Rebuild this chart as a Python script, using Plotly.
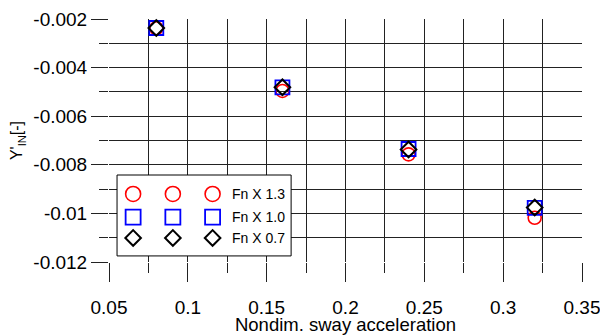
import plotly.graph_objects as go

x_vals = [0.08, 0.16, 0.24, 0.32]
fn13 = [-0.00238, -0.00496, -0.00757, -0.01018]
fn10 = [-0.00237, -0.00481, -0.00735, -0.00977]
fn07 = [-0.00237, -0.00481, -0.00737, -0.00976]
series_names = ["Fn X 1.3", "Fn X 1.0", "Fn X 0.7"]

x_ticks = [0.05, 0.1, 0.15, 0.2, 0.25, 0.3, 0.35]
x_tick_text = ["0.05", "0.1", "0.15", "0.2", "0.25", "0.3", "0.35"]
y_ticks = [-0.012, -0.01, -0.008, -0.006, -0.004, -0.002]
y_tick_text = ["-0.012", "-0.01", "-0.008", "-0.006", "-0.004", "-0.002"]

FONT = "Liberation Sans, Arial, sans-serif"
styles = [
    dict(symbol="circle-open", size=13, color="red", line=dict(width=1.6, color="red")),
    dict(symbol="square-open", size=14, color="blue", line=dict(width=1.8, color="blue")),
    dict(symbol="diamond-open", size=12, color="black", line=dict(width=2, color="black")),
]
leg_styles = [
    dict(symbol="circle-open", size=15, color="red", line=dict(width=1.6, color="red")),
    dict(symbol="square-open", size=15, color="blue", line=dict(width=1.8, color="blue")),
    dict(symbol="diamond-open", size=12, color="black", line=dict(width=2, color="black")),
]

fig = go.Figure()
for ys, st, nm in zip([fn13, fn10, fn07], styles, series_names):
    fig.add_trace(go.Scatter(x=x_vals, y=ys, mode="markers", marker=st, name=nm,
                             showlegend=False, cliponaxis=False))

# manual legend box (white, bordered) drawn on a hidden overlay axis
bx0, bx1, by0, by1 = 0.017, 0.385, 0.025, 0.358
fig.add_trace(go.Scatter(x=[bx0, bx1, bx1, bx0, bx0], y=[by0, by0, by1, by1, by0],
                         mode="lines", fill="toself", fillcolor="white",
                         line=dict(color="black", width=1),
                         xaxis="x2", yaxis="y2", showlegend=False, hoverinfo="skip"))
leg_cols = [0.051, 0.135, 0.219]
leg_rows = [0.280, 0.185, 0.099]
for row, st in zip(leg_rows, leg_styles):
    fig.add_trace(go.Scatter(x=leg_cols, y=[row] * 3, mode="markers", marker=st,
                             xaxis="x2", yaxis="y2", showlegend=False, hoverinfo="skip"))
for row, nm in zip(leg_rows, series_names):
    fig.add_annotation(x=0.256, y=row, xref="paper", yref="paper", text=nm,
                       showarrow=False, xanchor="left", yanchor="middle",
                       font=dict(family=FONT, size=14, color="black"))

grid_col = "#222222"
fig.update_layout(
    width=600, height=335,
    margin=dict(l=109, r=18, t=19, b=73, autoexpand=False),
    paper_bgcolor="white", plot_bgcolor="white",
    font=dict(family=FONT, size=19, color="black"),
    showlegend=False,
    xaxis=dict(range=[0.05, 0.35], tickvals=x_ticks, ticktext=x_tick_text,
               showgrid=True, gridcolor=grid_col, gridwidth=1, zeroline=False,
               ticks="outside", ticklen=19, tickcolor=grid_col, tickwidth=1,
               minor=dict(dtick=0.025, tick0=0.025, showgrid=True, gridcolor=grid_col, gridwidth=1,
                          ticks="outside", ticklen=10, tickcolor=grid_col),
               title=dict(text="Nondim. sway acceleration", standoff=0, font=dict(size=18.5)),
               ticklabelstandoff=9, ticklabeloverflow="allow", automargin=False,
               showline=False, tickfont=dict(size=19)),
    yaxis=dict(range=[-0.012, -0.002], tickvals=y_ticks, ticktext=y_tick_text,
               showgrid=True, gridcolor=grid_col, gridwidth=1, zeroline=False,
               ticks="outside", ticklen=17, tickcolor=grid_col, tickwidth=1,
               minor=dict(dtick=0.001, tick0=-0.001, showgrid=True, gridcolor=grid_col, gridwidth=1,
                          ticks="outside", ticklen=9, tickcolor=grid_col),
               title=dict(text="Y'<sub>IN</sub>[-]", standoff=6, font=dict(size=16)),
               automargin=False, showline=False, tickfont=dict(size=19)),
    xaxis2=dict(overlaying="x", range=[0, 1], visible=False),
    yaxis2=dict(overlaying="y", range=[0, 1], visible=False),
)

fig.write_html("out.html")
